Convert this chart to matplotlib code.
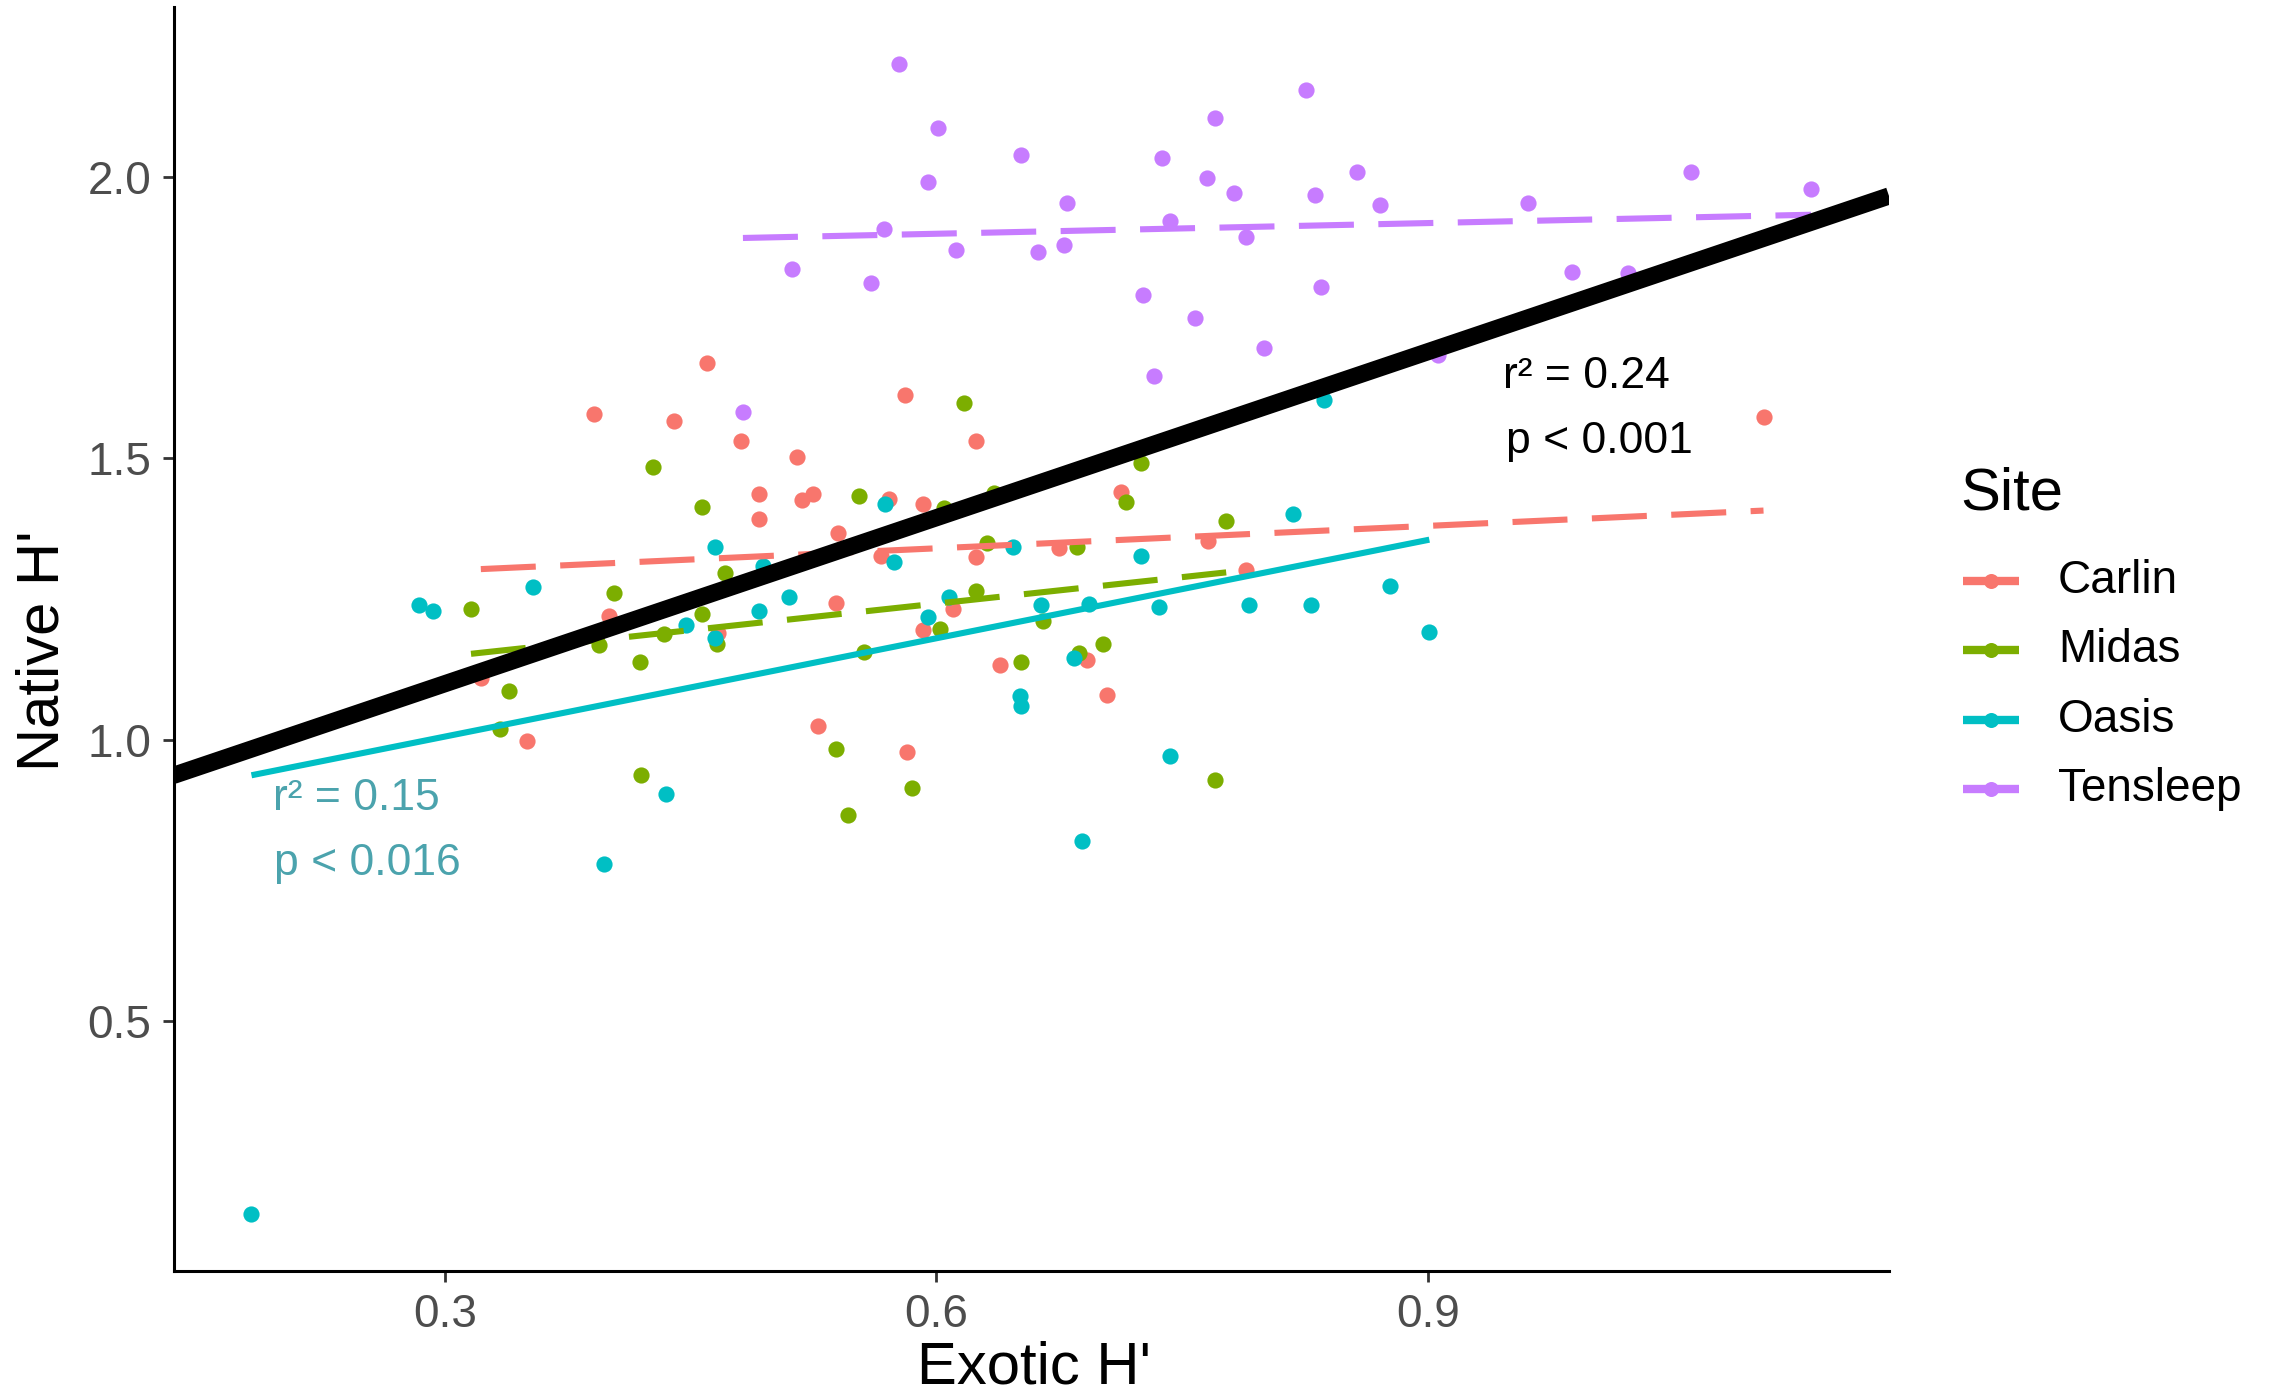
import numpy as np
import matplotlib
matplotlib.use("Agg")
import matplotlib.pyplot as plt
from matplotlib.lines import Line2D

plt.rcParams['font.family'] = ['Liberation Sans', 'DejaVu Sans']

# ---- data: exotic vs native Shannon diversity (H') per plot, by site ----
sites = ["Carlin", "Midas", "Oasis", "Tensleep"]
site_colors = ["#F8766D", "#7CAE00", "#00BFC4", "#C77CFF"]
site_dashed = [True, True, False, True]

carlin_x = [0.460, 0.391, 0.440, 0.581, 0.481, 0.624, 0.515, 0.492, 0.518, 0.525,
            0.571, 0.592, 0.492, 0.540, 0.566, 0.624, 0.539, 0.400, 0.610, 0.467,
            0.592, 0.322, 0.528, 0.350, 0.582, 0.713, 0.675, 0.766, 0.789, 0.639,
            0.692, 0.704, 1.105]
carlin_y = [1.669, 1.579, 1.567, 1.612, 1.531, 1.531, 1.502, 1.437, 1.426, 1.437,
            1.428, 1.419, 1.393, 1.368, 1.327, 1.324, 1.243, 1.220, 1.233, 1.189,
            1.195, 1.110, 1.025, 0.997, 0.979, 1.440, 1.340, 1.353, 1.302, 1.132,
            1.142, 1.079, 1.574]

midas_x = [0.427, 0.617, 0.457, 0.553, 0.605, 0.471, 0.403, 0.316, 0.457, 0.434,
           0.394, 0.466, 0.419, 0.556, 0.602, 0.624, 0.339, 0.334, 0.539, 0.420,
           0.725, 0.635, 0.716, 0.777, 0.631, 0.686, 0.665, 0.652, 0.687, 0.702,
           0.770, 0.546, 0.585]
midas_y = [1.485, 1.598, 1.414, 1.434, 1.411, 1.296, 1.261, 1.233, 1.223, 1.188,
           1.168, 1.170, 1.138, 1.156, 1.197, 1.264, 1.087, 1.019, 0.984, 0.938,
           1.491, 1.439, 1.423, 1.389, 1.350, 1.343, 1.211, 1.138, 1.155, 1.170,
           0.928, 0.866, 0.914]

oasis_x = [0.284, 0.293, 0.354, 0.465, 0.494, 0.510, 0.492, 0.447, 0.465, 0.569,
           0.574, 0.608, 0.595, 0.647, 0.725, 0.818, 0.837, 0.664, 0.693, 0.736,
           0.791, 0.829, 0.877, 0.901, 0.684, 0.651, 0.652, 0.743, 0.689, 0.435,
           0.397, 0.182]
oasis_y = [1.239, 1.229, 1.271, 1.343, 1.308, 1.253, 1.229, 1.204, 1.180, 1.419,
           1.316, 1.254, 1.218, 1.342, 1.327, 1.401, 1.604, 1.239, 1.242, 1.235,
           1.239, 1.239, 1.273, 1.191, 1.145, 1.078, 1.060, 0.971, 0.820, 0.904,
           0.779, 0.158]

tensleep_x = [0.577, 0.826, 0.770, 0.601, 0.652, 0.738, 1.061, 0.857, 0.595, 0.765,
              0.782, 0.831, 1.134, 0.961, 0.871, 0.680, 0.743, 0.568, 0.789, 0.612,
              0.662, 0.678, 0.512, 0.560, 0.988, 1.022, 0.835, 0.726, 0.758, 0.800,
              0.733, 0.482, 0.906]
tensleep_y = [2.200, 2.154, 2.104, 2.087, 2.039, 2.033, 2.008, 2.009, 1.992, 1.999,
              1.972, 1.968, 1.978, 1.954, 1.950, 1.954, 1.921, 1.908, 1.894, 1.870,
              1.867, 1.879, 1.837, 1.811, 1.832, 1.830, 1.805, 1.790, 1.750, 1.697,
              1.646, 1.583, 1.684]

site_x = [carlin_x, midas_x, oasis_x, tensleep_x]
site_y = [carlin_y, midas_y, oasis_y, tensleep_y]

x_ticks = [0.3, 0.6, 0.9]
y_ticks = [0.5, 1.0, 1.5, 2.0]

overall_label = ["r\u00b2 = 0.24", "p < 0.001"]
oasis_label = ["r\u00b2 = 0.15", "p < 0.016"]

# ---- figure ----
W, H, DPI = 2270, 1400, 200
fig = plt.figure(figsize=(W / DPI, H / DPI), dpi=DPI)
fig.patch.set_facecolor("white")
ax = fig.add_axes([173.5 / W, 1 - 1271 / H, (1889 - 173.5) / W, (1271 - 7) / H])

all_x = np.concatenate([np.asarray(v) for v in site_x])
all_y = np.concatenate([np.asarray(v) for v in site_y])

# ggplot-style 5% expansion of the data range
def expanded(v, frac=0.05):
    lo, hi = v.min(), v.max()
    pad = (hi - lo) * frac
    return lo - pad, hi + pad

xlim = expanded(all_x)
ylim = expanded(all_y)

# points
for xs, ys, col in zip(site_x, site_y, site_colors):
    ax.scatter(xs, ys, s=34, color=col, linewidths=0, zorder=2)

# per-site least-squares fits over each site's own x range
for xs, ys, col, dashed in zip(site_x, site_y, site_colors, site_dashed):
    xs = np.asarray(xs); ys = np.asarray(ys)
    b, a = np.polyfit(xs, ys, 1)
    fx = np.array([xs.min(), xs.max()])
    ln, = ax.plot(fx, a + b * fx, color=col, lw=2.2, zorder=3,
                  solid_capstyle="butt", dash_capstyle="butt")
    if dashed:
        ln.set_dashes((9.0, 4.0))

# overall fit across the full panel
b, a = np.polyfit(all_x, all_y, 1)
fx = np.array(xlim)
ax.plot(fx, a + b * fx, color="black", lw=6.2, zorder=4, solid_capstyle="butt")

# annotations
ax.text(0.946, 1.625, overall_label[0], fontsize=16, color="black",
        ha="left", va="baseline", zorder=5)
ax.text(0.948, 1.509, overall_label[1], fontsize=16, color="black",
        ha="left", va="baseline", zorder=5)
ax.text(0.195, 0.875, oasis_label[0], fontsize=16, color="#4BA3AD",
        ha="left", va="baseline", zorder=5)
ax.text(0.196, 0.760, oasis_label[1], fontsize=16, color="#4BA3AD",
        ha="left", va="baseline", zorder=5)

# axes styling (classic theme)
ax.set_xlim(xlim)
ax.set_ylim(ylim)
ax.set_xticks(x_ticks)
ax.set_yticks(y_ticks)
ax.set_xticklabels([f"{t:.1f}" for t in x_ticks])
ax.set_yticklabels([f"{t:.1f}" for t in y_ticks])
for side in ("top", "right"):
    ax.spines[side].set_visible(False)
for side in ("left", "bottom"):
    ax.spines[side].set_linewidth(1.1)
    ax.spines[side].set_color("black")
ax.tick_params(axis="both", direction="out", length=4, width=1.0,
               color="#333333", labelcolor="#4D4D4D", labelsize=16.5, pad=4)

fig.text(1034 / W, 1 - 1368 / H, "Exotic H'", fontsize=21.5, color="black",
         ha="center", va="center")
fig.text(43 / W, 1 - 651 / H, "Native H'", fontsize=21.5, color="black",
         ha="center", va="center", rotation=90)

# legend drawn in figure pixel space
fig.text(1960 / W, 1 - 509 / H, "Site", fontsize=21.5, color="black",
         ha="left", va="baseline")
key_y = [581, 650, 720, 789]
for name, col, ky in zip(sites, site_colors, key_y):
    yy = 1 - ky / H
    fig.add_artist(Line2D([1963 / W, 2019 / W], [yy, yy], color=col, lw=3.0,
                          solid_capstyle="butt"))
    fig.add_artist(Line2D([1991 / W], [yy], color=col, marker="o",
                          markersize=5.4, markeredgewidth=0, linestyle="none"))
    fig.text(2058 / W, yy, name, fontsize=16.5, color="black",
             ha="left", va="center")

fig.savefig("out.png", dpi=DPI, facecolor="white")
